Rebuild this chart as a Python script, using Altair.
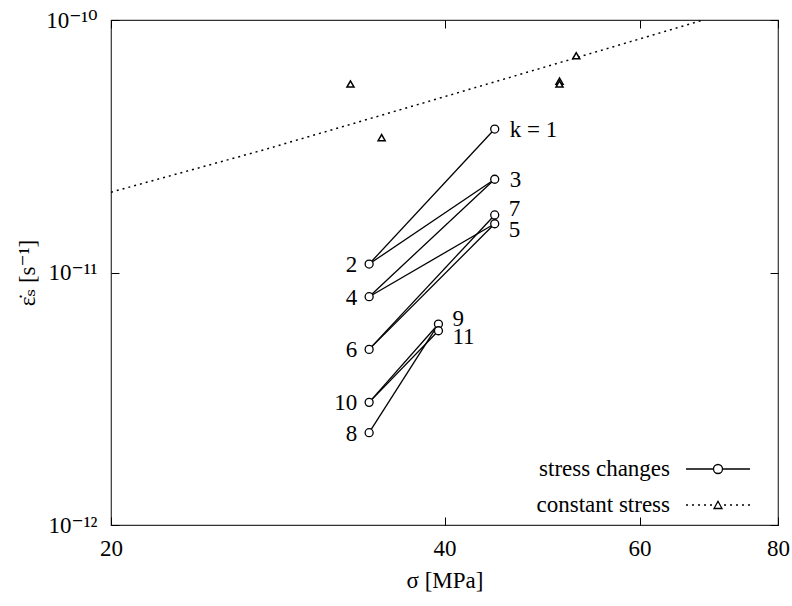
import altair as alt
import pandas as pd

# ---------------- data ----------------
# stress-change experiments, k = 1..11
k_labels = ["k = 1", "2", "3", "4", "5", "6", "7", "8", "9", "10", "11"]
k_sigma = [44.4, 34.2, 44.4, 34.2, 44.4, 34.2, 44.4, 34.2, 39.5, 34.2, 39.5]
k_rate = [3.70e-11, 1.08e-11, 2.34e-11, 8.02e-12, 1.56e-11, 4.96e-12,
          1.69e-11, 2.32e-12, 6.25e-12, 3.06e-12, 5.88e-12]
# consecutive steps joined by a line (k -> k+1); no line between 7 and 8
seg_pairs = [(1, 2), (2, 3), (3, 4), (4, 5), (5, 6), (6, 7), (8, 9), (9, 10), (10, 11)]

# constant-stress tests
cs_sigma = [32.9, 35.1, 50.8, 50.8, 52.6]
cs_rate = [5.58e-11, 3.42e-11, 5.73e-11, 5.58e-11, 7.22e-11]

# constant-stress fit curve (dotted)
fit_sigma = [20.0, 27.4, 38.0, 52.5, 68.5]
fit_rate = [2.08e-11, 3.05e-11, 4.65e-11, 7.07e-11, 1.0e-10]

legend_names = ["stress changes", "constant stress"]
x_ticks = [20, 40, 60, 80]
y_ticks = [1e-12, 1e-11, 1e-10]

FONT = "Liberation Serif, Times New Roman, Times, DejaVu Serif, serif"
FS = 23

# ---------------- tables ----------------
pts = pd.DataFrame({"k": list(range(1, 12)), "label": k_labels,
                    "sigma": k_sigma, "rate": k_rate})
seg_rows = []
for i, (a, b) in enumerate(seg_pairs):
    for kk in (a, b):
        seg_rows.append({"seg": i, "order": 0 if kk == a else 1,
                         "sigma": k_sigma[kk - 1], "rate": k_rate[kk - 1]})
segs = pd.DataFrame(seg_rows)
cs = pd.DataFrame({"sigma": cs_sigma, "rate": cs_rate})
fit = pd.DataFrame({"sigma": fit_sigma, "rate": fit_rate})
leg = pd.DataFrame({"series": legend_names, "sigma": [30.0, 30.0], "rate": [1e-11, 1e-11]})

left_lab = pts[pts["k"] % 2 == 0]
right_mid = pts[pts["k"].isin([1, 3])]
right_up = pts[pts["k"].isin([7, 9])]
right_dn = pts[pts["k"].isin([5, 11])]

xs = alt.Scale(type="log", domain=[20, 80], nice=False)
ys = alt.Scale(type="log", domain=[1e-12, 1e-10], nice=False)

y_label_expr = ("datum.value < 5e-12 ? '10\u207b\u00b9\u00b2' : "
                "(datum.value < 5e-11 ? '10\u207b\u00b9\u00b9' : '10\u207b\u00b9\u2070')")

x_main = alt.X("sigma:Q", scale=xs, axis=alt.Axis(
    values=x_ticks, format="d", title="\u03c3 [MPa]", grid=False, domain=False,
    tickSize=alt.ExprRef(expr="-8"), tickColor="black", tickWidth=1,
    labelFont=FONT, labelFontSize=FS, labelColor="black", labelPadding=20,
    labelFlush=False,
    titleFont=FONT, titleFontSize=FS, titleFontWeight="normal", titleColor="black",
    titleX=333.5, titleY=55, titleBaseline="middle", titleAlign="center"))
y_main = alt.Y("rate:Q", scale=ys, axis=alt.Axis(
    values=y_ticks, labelExpr=y_label_expr,
    title="\u03b5\u0307\u209b [s\u207b\u00b9]", grid=False, domain=False,
    tickSize=alt.ExprRef(expr="-8"), tickColor="black", tickWidth=1,
    labelFont=FONT, labelFontSize=FS, labelColor="black", labelPadding=22,
    labelFlush=False,
    titleFont=FONT, titleFontSize=FS, titleFontWeight="normal", titleColor="black",
    titleX=-84, titleY=252.5, titleAngle=-90, titleBaseline="middle", titleAlign="center"))

x_sec = alt.X("sigma:Q", scale=xs, axis=alt.Axis(
    values=x_ticks, labels=False, title=None, grid=False, domain=False,
    tickSize=alt.ExprRef(expr="-8"), tickColor="black", tickWidth=1))
y_sec = alt.Y("rate:Q", scale=ys, axis=alt.Axis(
    values=y_ticks, labels=False, title=None, grid=False, domain=False,
    tickSize=alt.ExprRef(expr="-8"), tickColor="black", tickWidth=1))

x_none = alt.X("sigma:Q", scale=xs, axis=None)
y_none = alt.Y("rate:Q", scale=ys, axis=None)

fit_layer = alt.Chart(fit).mark_line(
    color="black", strokeWidth=1.5, strokeDash=[2, 4], clip=True
).encode(x=x_main, y=y_main, order="sigma:Q")

seg_layer = alt.Chart(segs).mark_line(
    color="black", strokeWidth=1.3
).encode(x=x_sec, y=y_sec, detail="seg:N", order="order:Q")

circ_layer = alt.Chart(pts).mark_point(
    shape="circle", size=64, filled=True, fill="white", stroke="black",
    strokeWidth=1.3, opacity=1
).encode(x=x_none, y=y_none)

tri_layer = alt.Chart(cs).mark_point(
    shape="triangle-up", size=50, filled=True, fill="white", stroke="black",
    strokeWidth=1.5, opacity=1
).encode(x=x_none, y=y_none)


def labels(df, align, dx, dy):
    return alt.Chart(df).mark_text(
        font=FONT, fontSize=FS, color="black", align=align, baseline="middle",
        dx=dx, dy=dy
    ).encode(x=x_none, y=y_none, text="label:N")


lab_left = labels(left_lab, "right", -12, 1)
lab_right = labels(right_mid, "left", 15, 1)
lab_up = labels(right_up, "left", 14, -5.5)
lab_dn = labels(right_dn, "left", 14, 6.5)

# legend symbols: line + marker, drawn as custom symbol paths
path_sc = ("M-6.4,0L-0.9,0M0.9,0L6.4,0"
           "M-0.9,0A0.9,0.9,0,1,0,0.9,0A0.9,0.9,0,1,0,-0.9,0")
dots_l = "".join(f"M{x:.2f},0L{x + 0.4:.2f},0" for x in [-6.4, -5.2, -4.0, -2.8, -1.6])
dots_r = "".join(f"M{x:.2f},0L{x + 0.4:.2f},0" for x in [1.2, 2.4, 3.6, 4.8, 6.0])
path_cs = dots_l + dots_r + "M-0.8,0.7L0.8,0.7L0,-0.75Z"

legend_layer = alt.Chart(leg).mark_point(
    color="black", filled=False, opacity=0, strokeWidth=1.3
).encode(
    x=x_none, y=y_none,
    shape=alt.Shape("series:N", scale=alt.Scale(domain=legend_names,
                                                range=[path_sc, path_cs]),
                    legend=alt.Legend(
                        title=None, orient="none", legendX=595.5, legendY=437.5,
                        symbolSize=100, symbolStrokeWidth=1.3,
                        symbolStrokeColor="black", symbolFillColor="transparent",
                        symbolOpacity=1, labelFont=FONT, labelFontSize=FS,
                        labelColor="black", labelAlign="right",
                        labelOffset=alt.ExprRef(expr="-59.5"),
                        labelLimit=400, rowPadding=12, padding=0))
)

chart = alt.layer(
    fit_layer, seg_layer, circ_layer, tri_layer,
    lab_left, lab_right, lab_up, lab_dn, legend_layer
).resolve_axis(x="independent", y="independent").properties(
    width=667, height=505,
    padding={"left": 111, "top": 20, "right": 14, "bottom": 81},
    autosize=alt.AutoSizeParams(type="none"),
    background="white"
).configure(font=FONT).configure_view(stroke="#333", strokeWidth=1.2)

chart.save("out.html", embed_options={"renderer": "svg", "actions": False})
